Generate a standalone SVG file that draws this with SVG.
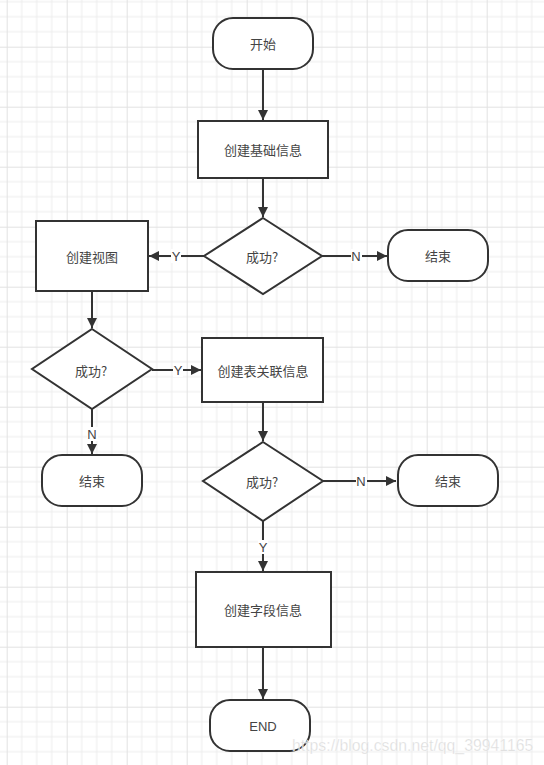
<svg xmlns="http://www.w3.org/2000/svg" width="544" height="765" viewBox="0 0 544 765">
<style>
.shape{fill:#fff;stroke:#333;stroke-width:2}
.lbl{font-family:"Noto Sans CJK SC","Liberation Sans",sans-serif;font-size:13px;fill:#444;text-anchor:middle;dominant-baseline:central}
.yn{font-family:"Liberation Sans","Noto Sans CJK SC",sans-serif;font-size:13px;fill:#444;text-anchor:middle;dominant-baseline:central}
.edge{fill:none;stroke:#333;stroke-width:2}
.lblbg{fill:#fff}
</style>
<defs>
<pattern id="grid" patternUnits="userSpaceOnUse" x="6.7" y="46.7" width="60" height="60">
<path d="M15 0V60M30 0V60M45 0V60M0 15H60M0 30H60M0 45H60" stroke="#ececec" stroke-width="1" fill="none"/>
<path d="M0.5 0V60M0 0.5H60" stroke="#e2e2e2" stroke-width="1" fill="none"/>
</pattern>
<marker id="arr" markerUnits="userSpaceOnUse" markerWidth="11" markerHeight="10" refX="10" refY="5" orient="auto">
<path d="M0 0L10 5L0 10z" fill="#333"/>
</marker>
</defs>
<rect width="544" height="765" fill="#fff"/>
<rect width="544" height="765" fill="url(#grid)"/>

<g id="connectors">
<path class="edge" d="M263 69V120" marker-end="url(#arr)"/>
<path class="edge" d="M263 178V217" marker-end="url(#arr)"/>
<path class="edge" d="M204 256H149" marker-end="url(#arr)"/>
<path class="edge" d="M322 256H387" marker-end="url(#arr)"/>
<path class="edge" d="M92 291V328" marker-end="url(#arr)"/>
<path class="edge" d="M152 370H201" marker-end="url(#arr)"/>
<path class="edge" d="M92 409V454" marker-end="url(#arr)"/>
<path class="edge" d="M263 402V441" marker-end="url(#arr)"/>
<path class="edge" d="M323 481H396" marker-end="url(#arr)"/>
<path class="edge" d="M263 521V571" marker-end="url(#arr)"/>
<path class="edge" d="M263 647V699" marker-end="url(#arr)"/>
<rect class="lblbg" x="171" y="249" width="10" height="14"/>
<text class="yn" x="176" y="256">Y</text>
<rect class="lblbg" x="351" y="249" width="11" height="14"/>
<text class="yn" x="356" y="256">N</text>
<rect class="lblbg" x="173" y="363" width="10" height="14"/>
<text class="yn" x="178" y="370">Y</text>
<rect class="lblbg" x="87" y="427" width="11" height="14"/>
<text class="yn" x="92" y="434">N</text>
<rect class="lblbg" x="356" y="474" width="11" height="14"/>
<text class="yn" x="361" y="481">N</text>
<rect class="lblbg" x="258" y="540" width="10" height="14"/>
<text class="yn" x="263" y="547">Y</text>
</g>

<g id="start"><rect class="shape" x="213" y="18" width="100" height="51" rx="20" ry="20"/><text class="lbl" x="263" y="43.5">开始</text></g>
<g id="basic-info"><rect class="shape" x="198" y="121" width="130" height="57"/><text class="lbl" x="263" y="149.5">创建基础信息</text></g>
<g id="decision1"><polygon class="shape" points="263,218 322,256 263,294 204,256"/><text class="lbl" x="262" y="256">成功?</text></g>
<g id="end1"><rect class="shape" x="388" y="230" width="100" height="51" rx="20" ry="20"/><text class="lbl" x="438" y="255.5">结束</text></g>
<g id="create-view"><rect class="shape" x="36" y="221" width="112" height="70"/><text class="lbl" x="92" y="256">创建视图</text></g>
<g id="decision2"><polygon class="shape" points="92,329 152,369 92,409 32,369"/><text class="lbl" x="91" y="370">成功?</text></g>
<g id="end2"><rect class="shape" x="42" y="455" width="100" height="51" rx="20" ry="20"/><text class="lbl" x="92" y="480.5">结束</text></g>
<g id="table-relation"><rect class="shape" x="202" y="338" width="121" height="64"/><text class="lbl" x="263" y="370">创建表关联信息</text></g>
<g id="decision3"><polygon class="shape" points="263,442 323,481 263,521 203,481"/><text class="lbl" x="262" y="481">成功?</text></g>
<g id="end3"><rect class="shape" x="398" y="455" width="100" height="51" rx="20" ry="20"/><text class="lbl" x="448" y="480.5">结束</text></g>
<g id="field-info"><rect class="shape" x="196" y="572" width="135" height="75"/><text class="lbl" x="263" y="609.5">创建字段信息</text></g>
<g id="end-final"><rect class="shape" x="210" y="700" width="100" height="51" rx="20" ry="20"/><text class="yn" x="263" y="726">END</text></g>

<text x="292" y="751" font-family="Liberation Sans, Arial, sans-serif" font-size="15.8" fill="#d4d4d4" fill-opacity="0.85" stroke="#fff" stroke-width="0.6" stroke-opacity="0.6">https://blog.csdn.net/qq_39941165</text>
</svg>
